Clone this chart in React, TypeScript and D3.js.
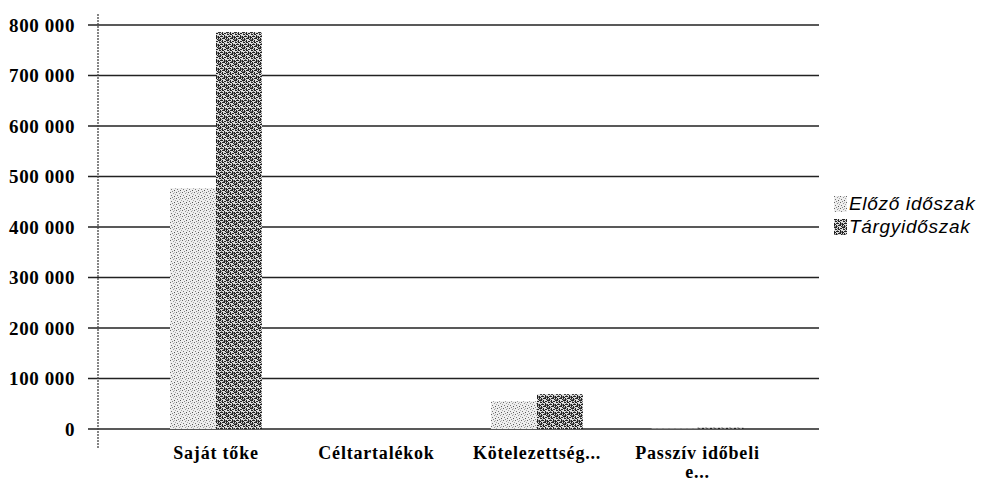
import React from "react";
import * as d3 from "d3";

const categories = ["Saját tőke", "Céltartalékok", "Kötelezettség...", "Passzív időbeli\ne..."];
const seriesNames = ["Előző időszak", "Tárgyidőszak"];
const previousValues = [477000, 0, 55000, 800];
const currentValues = [786000, 0, 69000, 3000];
const yTicks = [0, 100000, 200000, 300000, 400000, 500000, 600000, 700000, 800000];

const W = 997;
const H = 484;

function fmt(v: number) {
  return d3.format(",")(v).replace(/,/g, " ");
}

export default function App() {
  const y = d3.scaleLinear().domain([0, 800000]).range([429, 25]);
  const x = d3.scaleBand<string>().domain(categories).range([135.75, 777.75]).paddingInner(0).paddingOuter(0);
  const groupW = 92;
  const x1 = d3.scaleBand<string>().domain(seriesNames).range([0, groupW]);
  const series = [previousValues, currentValues];
  const fills = ["url(#lightPat)", "url(#darkPat)"];

  return (
    <svg width={W} height={H} style={{ position: "absolute", left: 0, top: 0, background: "#fff" }}>
      <defs>
        <pattern id="lightPat" width="6" height="6" patternUnits="userSpaceOnUse">
          <rect width="6" height="6" fill="#eeeeee" />
          <rect x="0" y="0" width="1" height="1" fill="#666" />
          <rect x="3" y="1" width="1" height="1" fill="#999" />
          <rect x="1" y="3" width="1" height="1" fill="#777" />
          <rect x="4" y="4" width="1" height="1" fill="#555" />
          <rect x="5" y="2" width="1" height="1" fill="#aaa" />
          <rect x="2" y="5" width="1" height="1" fill="#888" />
          <rect x="4" y="0" width="1" height="1" fill="#bbb" />
        </pattern>
        <pattern id="darkPat" width="8" height="8" patternUnits="userSpaceOnUse">
          <rect width="8" height="8" fill="#dcdcdc" />
          <path d="M0 0h3v1H0zM4 0h1v3H4zM6 1h2v1H6zM1 2h2v1H1zM0 4h1v3H0zM2 4h3v1H2zM6 3h1v3H6zM2 6h1v2H2zM4 6h3v1H4zM7 7h1v1H7zM5 2h1v1H5zM1 5h1v1H1z" fill="#222" />
          <path d="M3 1h1v1H3zM7 4h1v2H7zM5 5h1v1H5zM0 7h2v1H0zM3 7h1v1H3zM1 1h1v1H1zM3 3h1v1H3z" fill="#777" />
        </pattern>
      </defs>

      {/* grid lines */}
      {yTicks.map((t) => (
        <line key={"g" + t} x1={88} x2={819} y1={y(t)} y2={y(t)} stroke="#222" strokeWidth={1.3} />
      ))}

      {/* bars */}
      {categories.map((c) => (
        <g key={c} transform={`translate(${(x(c) as number) + (x.bandwidth() - groupW) / 2},0)`}>
          {seriesNames.map((s, si) => {
            const v = series[si][categories.indexOf(c)];
            if (v <= 0) return null;
            return (
              <rect
                key={s}
                x={x1(s)}
                width={x1.bandwidth()}
                y={y(v)}
                height={y(0) - y(v)}
                fill={fills[si]}
              />
            );
          })}
        </g>
      ))}

      {/* axis line */}
      <line x1={98} x2={98} y1={14} y2={448} stroke="#444" strokeWidth={1.3} strokeDasharray="2 1" />

      {/* y tick labels */}
      {yTicks.map((t) => (
        <text
          key={"t" + t}
          x={75}
          y={y(t)}
          dy="0.36em"
          textAnchor="end"
          fontFamily="'Liberation Serif', serif"
          fontWeight="bold"
          fontSize={19}
          letterSpacing={0.6}
        >
          {fmt(t)}
        </text>
      ))}

      {/* category labels */}
      {categories.map((c) => {
        const lines = c.split("\n");
        const cx = (x(c) as number) + x.bandwidth() / 2;
        return (
          <text
            key={"c" + c}
            x={cx}
            y={459}
            textAnchor="middle"
            fontFamily="'Liberation Serif', serif"
            fontWeight="bold"
            fontSize={18}
            letterSpacing={0.8}
          >
            {lines.map((l, i) => (
              <tspan key={i} x={cx} dy={i === 0 ? 0 : 19}>
                {l}
              </tspan>
            ))}
          </text>
        );
      })}

      {/* legend */}
      {seriesNames.map((s, i) => (
        <g key={"l" + s} transform={`translate(834,${196 + i * 23})`}>
          <rect x={0} y={0} width={13} height={16} fill={fills[i]} />
          <text
            x={15}
            y={14}
            fontFamily="'Liberation Sans', Arial, sans-serif"
            fontStyle="italic"
            fontSize={19}
            letterSpacing={0.7}
          >
            {s}
          </text>
        </g>
      ))}
    </svg>
  );
}
